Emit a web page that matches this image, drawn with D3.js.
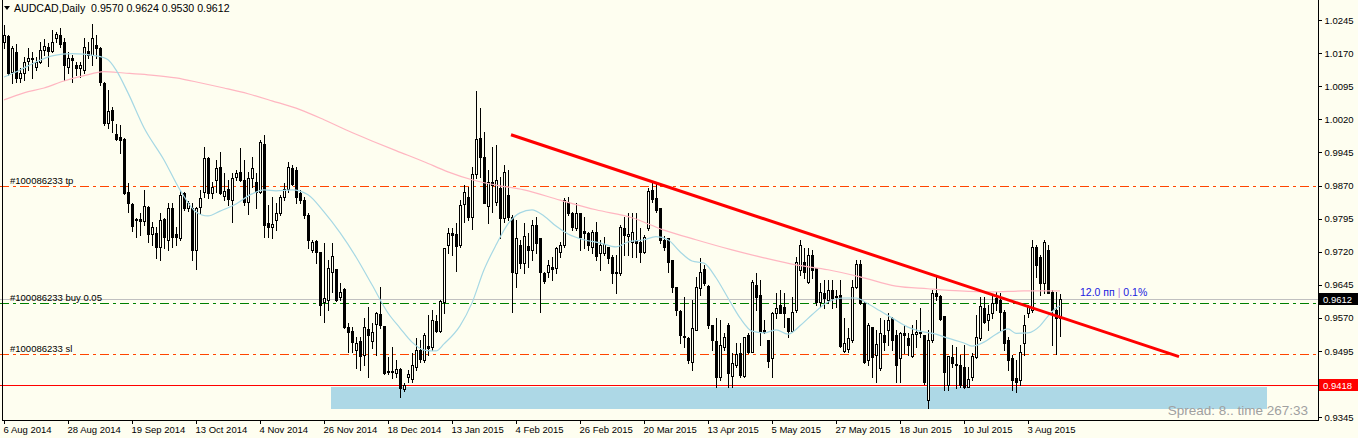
<!DOCTYPE html>
<html>
<head>
<meta charset="utf-8">
<script src="https://cdn.jsdelivr.net/npm/d3@7"></script>
<style>
  body { margin: 0; background: #fefef0; }
  svg { display: block; font-family: "Liberation Sans", Arial, sans-serif; }
</style>
</head>
<body>
<div id="chart"></div>
<script>
// AUDCAD daily, one entry per trading day starting 6 Aug 2014
const opens = [
  1.0196,1.0209,1.0128,1.0173,1.0114,1.0125,1.0153,1.0159,1.0139,1.0150,
  1.0178,1.0184,1.0175,1.0205,1.0212,1.0196,1.0139,1.0159,1.0144,1.0137,
  1.0132,1.0175,1.0166,1.0189,1.0182,1.0103,1.0012,1.0042,0.9987,0.9980,
  0.9976,0.9856,0.9828,0.9794,0.9794,0.9790,0.9822,0.9760,0.9763,0.9731,
  0.9794,0.9747,0.9819,0.9760,0.9751,0.9853,0.9819,0.9819,0.9724,0.9822,
  0.9856,0.9933,0.9853,0.9883,0.9912,0.9847,0.9862,0.9837,0.9890,0.9901,
  0.9883,0.9833,0.9887,0.9878,0.9856,0.9965,0.9785,0.9776,0.9792,0.9808,
  0.9844,0.9862,0.9910,0.9905,0.9853,0.9837,0.9803,0.9724,0.9744,0.9720,
  0.9606,0.9611,0.9674,0.9681,0.9617,0.9636,0.9549,0.9540,0.9497,0.9518,
  0.9486,0.9545,0.9518,0.9556,0.9579,0.9552,0.9450,0.9450,0.9445,0.9454,
  0.9409,0.9436,0.9431,0.9459,0.9497,0.9475,0.9506,0.9504,0.9563,0.9540,
  0.9606,0.9735,0.9763,0.9760,0.9735,0.9828,0.9844,0.9799,0.9896,0.9978,
  0.9935,0.9824,0.9878,0.9833,0.9865,0.9797,0.9849,0.9799,0.9672,0.9735,
  0.9694,0.9733,0.9724,0.9781,0.9751,0.9672,0.9674,0.9685,0.9683,0.9720,
  0.9735,0.9833,0.9808,0.9774,0.9808,0.9767,0.9763,0.9731,0.9765,0.9717,
  0.9717,0.9731,0.9708,0.9672,0.9672,0.9774,0.9756,0.9742,0.9747,0.9742,
  0.9720,0.9774,0.9860,0.9842,0.9819,0.9747,0.9751,0.9701,0.9640,0.9586,
  0.9529,0.9524,0.9470,0.9543,0.9638,0.9681,0.9642,0.9554,0.9518,0.9436,
  0.9504,0.9554,0.9438,0.9463,0.9490,0.9438,0.9531,0.9493,0.9645,0.9622,
  0.9543,0.9520,0.9479,0.9581,0.9599,0.9595,0.9570,0.9540,0.9588,0.9679,
  0.9697,0.9651,0.9713,0.9683,0.9606,0.9627,0.9611,0.9633,0.9620,0.9622,
  0.9495,0.9499,0.9520,0.9640,0.9692,0.9604,0.9475,0.9549,0.9486,0.9456,
  0.9531,0.9543,0.9570,0.9531,0.9479,0.9536,0.9524,0.9484,0.9533,0.9538,
  0.9531,0.9384,0.9520,0.9627,0.9620,0.9574,0.9418,0.9481,0.9466,0.9463,
  0.9459,0.9413,0.9436,0.9481,0.9524,0.9592,0.9565,0.9581,0.9615,0.9611,
  0.9583,0.9520,0.9479,0.9434,0.9429,0.9513,0.9581,0.9588,0.9731,0.9708,
  0.9649,0.9724,0.9629,0.9588,0.9570
];
const highs = [
  1.0234,1.0212,1.0187,1.0191,1.0137,1.0162,1.0182,1.0173,1.0162,1.0196,
  1.0203,1.0193,1.0223,1.0218,1.0227,1.0205,1.0173,1.0166,1.0150,1.0150,
  1.0205,1.0196,1.0237,1.0212,1.0184,1.0105,1.0087,1.0048,1.0010,1.0007,
  0.9978,0.9876,0.9831,0.9797,0.9808,0.9860,0.9824,0.9788,0.9776,0.9808,
  0.9797,0.9831,0.9831,0.9776,0.9860,0.9856,0.9835,0.9831,0.9822,0.9860,
  0.9958,0.9935,0.9878,0.9928,0.9946,0.9899,0.9883,0.9899,0.9905,0.9955,
  0.9928,0.9901,0.9935,0.9899,0.9973,0.9985,0.9826,0.9844,0.9831,0.9849,
  0.9876,0.9924,0.9917,0.9912,0.9860,0.9844,0.9808,0.9747,0.9747,0.9720,
  0.9740,0.9701,0.9740,0.9681,0.9649,0.9638,0.9558,0.9549,0.9527,0.9527,
  0.9570,0.9595,0.9558,0.9583,0.9640,0.9552,0.9481,0.9504,0.9475,0.9456,
  0.9422,0.9452,0.9490,0.9524,0.9520,0.9536,0.9577,0.9588,0.9577,0.9611,
  0.9729,0.9774,0.9774,0.9785,0.9837,0.9871,0.9867,0.9912,1.0085,1.0046,
  0.9992,0.9905,0.9958,0.9962,0.9890,0.9917,0.9905,0.9803,0.9792,0.9747,
  0.9785,0.9763,0.9792,0.9799,0.9751,0.9674,0.9701,0.9708,0.9731,0.9742,
  0.9842,0.9844,0.9810,0.9831,0.9808,0.9799,0.9765,0.9769,0.9788,0.9747,
  0.9754,0.9731,0.9713,0.9713,0.9781,0.9799,0.9808,0.9808,0.9808,0.9774,
  0.9758,0.9865,0.9876,0.9874,0.9819,0.9756,0.9751,0.9701,0.9640,0.9588,
  0.9617,0.9527,0.9611,0.9663,0.9706,0.9690,0.9645,0.9554,0.9570,0.9565,
  0.9536,0.9558,0.9490,0.9513,0.9513,0.9527,0.9536,0.9656,0.9672,0.9656,
  0.9565,0.9520,0.9583,0.9627,0.9633,0.9627,0.9570,0.9617,0.9708,0.9747,
  0.9729,0.9729,0.9724,0.9683,0.9649,0.9656,0.9656,0.9656,0.9633,0.9656,
  0.9570,0.9547,0.9656,0.9701,0.9701,0.9606,0.9558,0.9549,0.9543,0.9570,
  0.9565,0.9581,0.9572,0.9543,0.9538,0.9554,0.9536,0.9554,0.9565,0.9592,
  0.9531,0.9543,0.9633,0.9663,0.9622,0.9574,0.9484,0.9509,0.9504,0.9486,
  0.9509,0.9459,0.9490,0.9577,0.9617,0.9617,0.9599,0.9622,0.9629,0.9627,
  0.9588,0.9527,0.9486,0.9475,0.9509,0.9577,0.9599,0.9747,0.9735,0.9713,
  0.9747,0.9735,0.9633,0.9629,0.9624
];
const lows = [
  1.0182,1.0121,1.0103,1.0105,1.0105,1.0110,1.0132,1.0114,1.0132,1.0148,
  1.0166,1.0141,1.0173,1.0196,1.0184,1.0110,1.0125,1.0105,1.0121,1.0116,
  1.0125,1.0159,1.0144,1.0159,1.0098,1.0008,1.0001,0.9992,0.9973,0.9944,
  0.9851,0.9810,0.9767,0.9753,0.9758,0.9781,0.9742,0.9735,0.9706,0.9701,
  0.9728,0.9724,0.9731,0.9735,0.9747,0.9815,0.9812,0.9701,0.9681,0.9808,
  0.9844,0.9842,0.9842,0.9856,0.9851,0.9837,0.9826,0.9788,0.9883,0.9881,
  0.9826,0.9806,0.9867,0.9819,0.9853,0.9753,0.9753,0.9751,0.9769,0.9803,
  0.9837,0.9856,0.9871,0.9831,0.9831,0.9797,0.9728,0.9720,0.9695,0.9577,
  0.9561,0.9588,0.9629,0.9608,0.9611,0.9547,0.9493,0.9493,0.9456,0.9452,
  0.9463,0.9436,0.9502,0.9486,0.9547,0.9443,0.9443,0.9434,0.9436,0.9391,
  0.9404,0.9425,0.9425,0.9452,0.9470,0.9470,0.9486,0.9497,0.9538,0.9538,
  0.9581,0.9717,0.9713,0.9676,0.9731,0.9788,0.9792,0.9772,0.9887,0.9890,
  0.9831,0.9785,0.9810,0.9826,0.9751,0.9788,0.9792,0.9583,0.9640,0.9683,
  0.9672,0.9685,0.9701,0.9717,0.9583,0.9649,0.9663,0.9656,0.9672,0.9708,
  0.9731,0.9803,0.9769,0.9769,0.9724,0.9728,0.9724,0.9717,0.9701,0.9679,
  0.9713,0.9694,0.9649,0.9627,0.9667,0.9713,0.9713,0.9708,0.9708,0.9697,
  0.9717,0.9769,0.9833,0.9810,0.9740,0.9724,0.9674,0.9629,0.9577,0.9513,
  0.9504,0.9468,0.9452,0.9543,0.9622,0.9645,0.9547,0.9497,0.9413,0.9429,
  0.9497,0.9413,0.9413,0.9459,0.9436,0.9436,0.9490,0.9493,0.9588,0.9509,
  0.9536,0.9459,0.9436,0.9570,0.9581,0.9549,0.9527,0.9538,0.9583,0.9667,
  0.9660,0.9649,0.9660,0.9599,0.9595,0.9592,0.9604,0.9592,0.9595,0.9504,
  0.9493,0.9493,0.9515,0.9638,0.9602,0.9468,0.9463,0.9436,0.9425,0.9452,
  0.9497,0.9509,0.9497,0.9425,0.9425,0.9490,0.9486,0.9481,0.9504,0.9527,
  0.9420,0.9366,0.9515,0.9611,0.9565,0.9406,0.9406,0.9459,0.9411,0.9413,
  0.9411,0.9413,0.9429,0.9479,0.9520,0.9558,0.9543,0.9570,0.9588,0.9543,
  0.9497,0.9452,0.9406,0.9402,0.9418,0.9486,0.9572,0.9583,0.9663,0.9622,
  0.9627,0.9627,0.9509,0.9488,0.9530
];
const closes = [
  1.0212,1.0125,1.0182,1.0114,1.0125,1.0150,1.0159,1.0157,1.0150,1.0178,
  1.0187,1.0175,1.0196,1.0214,1.0191,1.0144,1.0159,1.0155,1.0137,1.0144,
  1.0184,1.0166,1.0205,1.0182,1.0105,1.0012,1.0039,1.0019,0.9976,0.9973,
  0.9853,0.9831,0.9778,0.9792,0.9790,0.9824,0.9760,0.9776,0.9731,0.9792,
  0.9753,0.9819,0.9753,0.9753,0.9849,0.9819,0.9831,0.9724,0.9819,0.9842,
  0.9933,0.9853,0.9867,0.9910,0.9853,0.9858,0.9840,0.9887,0.9899,0.9883,
  0.9833,0.9887,0.9910,0.9856,0.9969,0.9781,0.9776,0.9783,0.9808,0.9844,
  0.9862,0.9912,0.9874,0.9844,0.9837,0.9803,0.9747,0.9742,0.9720,0.9599,
  0.9615,0.9683,0.9710,0.9611,0.9629,0.9549,0.9538,0.9515,0.9513,0.9484,
  0.9549,0.9531,0.9538,0.9581,0.9554,0.9445,0.9447,0.9447,0.9454,0.9411,
  0.9418,0.9443,0.9463,0.9497,0.9477,0.9531,0.9502,0.9565,0.9540,0.9608,
  0.9729,0.9763,0.9758,0.9733,0.9826,0.9856,0.9799,0.9896,0.9976,0.9935,
  0.9831,0.9878,0.9871,0.9883,0.9797,0.9901,0.9799,0.9674,0.9751,0.9694,
  0.9756,0.9724,0.9781,0.9740,0.9674,0.9654,0.9690,0.9681,0.9729,0.9735,
  0.9837,0.9808,0.9776,0.9808,0.9753,0.9763,0.9735,0.9765,0.9710,0.9735,
  0.9738,0.9706,0.9672,0.9674,0.9776,0.9758,0.9760,0.9765,0.9740,0.9720,
  0.9754,0.9858,0.9840,0.9815,0.9747,0.9731,0.9697,0.9640,0.9588,0.9531,
  0.9527,0.9475,0.9547,0.9640,0.9674,0.9649,0.9554,0.9520,0.9436,0.9509,
  0.9527,0.9445,0.9468,0.9488,0.9441,0.9527,0.9493,0.9651,0.9617,0.9538,
  0.9538,0.9472,0.9581,0.9592,0.9581,0.9581,0.9540,0.9583,0.9697,0.9735,
  0.9674,0.9713,0.9679,0.9606,0.9629,0.9615,0.9633,0.9615,0.9617,0.9506,
  0.9513,0.9524,0.9640,0.9692,0.9604,0.9470,0.9554,0.9481,0.9511,0.9536,
  0.9515,0.9565,0.9520,0.9463,0.9536,0.9531,0.9509,0.9533,0.9538,0.9536,
  0.9425,0.9520,0.9627,0.9620,0.9568,0.9447,0.9484,0.9468,0.9463,0.9418,
  0.9413,0.9431,0.9484,0.9527,0.9597,0.9561,0.9579,0.9604,0.9604,0.9583,
  0.9513,0.9475,0.9429,0.9425,0.9493,0.9554,0.9595,0.9731,0.9690,0.9649,
  0.9742,0.9627,0.9588,0.9570,0.9612
];

// moving averages: [bar index, price]
const maFast = [
  [0,1.0116],[4,1.0132],[8,1.0150],[12,1.0164],[17,1.0169],[23,1.0164],[26,1.0155],
  [28,1.0132],[31,1.0080],[35,1.0001],[40,0.9928],[44,0.9860],[48,0.9810],[51,0.9801],
  [54,0.9812],[58,0.9828],[62,0.9851],[65,0.9860],[68,0.9858],[72,0.9860],[76,0.9849],
  [80,0.9810],[84,0.9763],[88,0.9708],[92,0.9645],[96,0.9581],[99,0.9547],[102,0.9515],
  [105,0.9497],[108,0.9495],[110,0.9511],[114,0.9552],[117,0.9604],[120,0.9679],
  [123,0.9735],[126,0.9783],[129,0.9808],[132,0.9815],[135,0.9801],[138,0.9778],
  [141,0.9760],[145,0.9747],[149,0.9740],[153,0.9731],[156,0.9742],[160,0.9747],
  [163,0.9754],[166,0.9747],[169,0.9720],[172,0.9699],[175,0.9694],[178,0.9661],
  [181,0.9615],[184,0.9570],[187,0.9540],[190,0.9536],[193,0.9543],[196,0.9533],
  [199,0.9552],[202,0.9577],[206,0.9606],[210,0.9615],[213,0.9615],[216,0.9602],
  [219,0.9586],[222,0.9570],[226,0.9549],[229,0.9540],[233,0.9533],[236,0.9524],
  [240,0.9513],[242,0.9506],[245,0.9515],[248,0.9533],[251,0.9545],[253,0.9535],
  [256,0.9536],[259,0.9552],[261,0.9574],[263,0.9592],[264,0.9597]
];
const maSlow = [
  [0,1.0064],[5,1.0080],[10,1.0091],[15,1.0107],[20,1.0119],[25,1.0128],[30,1.0125],
  [36,1.0121],[43,1.0114],[49,1.0103],[55,1.0091],[61,1.0078],[67,1.0062],[74,1.0042],
  [80,1.0019],[86,0.9994],[92,0.9971],[98,0.9949],[105,0.9924],[111,0.9901],[117,0.9883],
  [123,0.9871],[130,0.9860],[139,0.9837],[148,0.9815],[157,0.9797],[165,0.9769],
  [173,0.9747],[182,0.9724],[190,0.9706],[198,0.9690],[206,0.9679],[214,0.9663],
  [223,0.9642],[231,0.9636],[239,0.9631],[247,0.9629],[255,0.9631],[264,0.9631]
];

const dateLabels = ["6 Aug 2014", "28 Aug 2014", "19 Sep 2014", "13 Oct 2014", "4 Nov 2014",
  "26 Nov 2014", "18 Dec 2014", "13 Jan 2015", "4 Feb 2015", "26 Feb 2015", "20 Mar 2015",
  "13 Apr 2015", "5 May 2015", "27 May 2015", "18 Jun 2015", "10 Jul 2015", "3 Aug 2015"];
const dateBars = [0, 16, 32, 48, 64, 80, 96, 112, 128, 144, 160, 176, 192, 208, 224, 240, 256];
const priceTicks = [0.9345, 0.9495, 0.9570, 0.9645, 0.9720, 0.9795, 0.9870, 0.9945,
  1.0020, 1.0095, 1.0170, 1.0245];

// order levels
const levelNames = ["#100086233 tp", "#100086233 buy 0.05", "#100086233 sl"];
const levelPrices = [0.9870, 0.9604, 0.9489];
const bidPrice = 0.9612;
const alertPrice = 0.9418;
// trend line and support zone: [bar index, price]
const trendLine = [[126.75, 0.9985], [293.75, 0.9482]];
const supportZone = [[81.75, 0.9414], [315.75, 0.9363]];
const header = "AUDCAD,Daily  0.9570 0.9624 0.9530 0.9612";

class CandleChart {
    constructor(parentContainer) {
        this.parentContainer = parentContainer;
        this.initVis();
    }

    initVis() {
        let vis = this;

        vis.width = 1358;
        vis.height = 438;
        vis.plotW = 1318;
        vis.plotH = 420;
        vis.bg = "#fefef0";

        vis.svg = d3.select("#" + vis.parentContainer).append("svg")
            .attr("width", vis.width)
            .attr("height", vis.height)
            .style("background", vis.bg);

        vis.x = d3.scaleLinear().domain([-1, 328.5]).range([0, vis.plotW]);
        vis.y = d3.scaleLinear().domain([0.93385, 1.02905]).range([vis.plotH, 0]);

        vis.candles = opens.map((o, i) => ({ i: i, o: o, h: highs[i], l: lows[i], c: closes[i] }));

        vis.plot = vis.svg.append("g").attr("shape-rendering", "crispEdges");

        vis.drawObjects();
        vis.drawCandles();
        vis.drawAverages();
        vis.drawTrend();
        vis.drawAxes();
        vis.drawTexts();
    }

    px(v) {
        return Math.round(v);
    }

    drawObjects() {
        let vis = this;

        // support zone rectangle
        vis.plot.append("rect")
            .attr("x", vis.px(vis.x(supportZone[0][0])))
            .attr("y", vis.px(vis.y(supportZone[0][1])))
            .attr("width", vis.px(vis.x(supportZone[1][0])) - vis.px(vis.x(supportZone[0][0])))
            .attr("height", vis.px(vis.y(supportZone[1][1])) - vis.px(vis.y(supportZone[0][1])))
            .attr("fill", "#add8e6");

        // alert line
        vis.plot.append("line")
            .attr("x1", 0).attr("x2", vis.plotW)
            .attr("y1", vis.px(vis.y(alertPrice)) + 0.5)
            .attr("y2", vis.px(vis.y(alertPrice)) + 0.5)
            .attr("stroke", "#ff0000");

        // bid line
        vis.plot.append("line")
            .attr("x1", 0).attr("x2", vis.plotW)
            .attr("y1", vis.px(vis.y(bidPrice)) + 0.5)
            .attr("y2", vis.px(vis.y(bidPrice)) + 0.5)
            .attr("stroke", "#c0c0c0");

        let levelColors = ["#ff4500", "#008000", "#ff4500"];
        levelPrices.forEach((p, k) => {
            let yy = vis.px(vis.y(p)) + 0.5;
            vis.plot.append("line")
                .attr("x1", 0).attr("x2", vis.plotW)
                .attr("y1", yy).attr("y2", yy)
                .attr("stroke", levelColors[k])
                .attr("stroke-width", 1.5)
                .attr("stroke-dasharray", "9,4,3,4");
        });
    }

    drawCandles() {
        let vis = this;

        let g = vis.plot.append("g");

        g.selectAll(".wick")
            .data(vis.candles)
            .enter().append("rect")
            .attr("class", "wick")
            .attr("x", d => vis.px(vis.x(d.i)))
            .attr("y", d => vis.px(vis.y(d.h)))
            .attr("width", 1)
            .attr("height", d => vis.px(vis.y(d.l)) - vis.px(vis.y(d.h)) + 1)
            .attr("fill", "#000");

        g.selectAll(".body")
            .data(vis.candles)
            .enter().append("rect")
            .attr("class", "body")
            .attr("x", d => vis.px(vis.x(d.i)) - 0.5)
            .attr("y", d => vis.px(vis.y(Math.max(d.o, d.c))) + 0.5)
            .attr("width", 2)
            .attr("height", d => Math.max(0, vis.px(vis.y(Math.min(d.o, d.c))) - vis.px(vis.y(Math.max(d.o, d.c)))))
            .attr("fill", d => d.c >= d.o ? vis.bg : "#000")
            .attr("stroke", "#000")
            .attr("stroke-width", 1);
    }

    drawAverages() {
        let vis = this;

        let line = d3.line()
            .x(d => vis.x(d[0]))
            .y(d => vis.y(d[1]))
            .curve(d3.curveMonotoneX);

        vis.svg.append("path")
            .attr("d", line(maSlow))
            .attr("fill", "none")
            .attr("stroke", "#ffb6c1")
            .attr("stroke-width", 1.2);

        vis.svg.append("path")
            .attr("d", line(maFast))
            .attr("fill", "none")
            .attr("stroke", "#a6d8e4")
            .attr("stroke-width", 1.2);
    }

    drawTrend() {
        let vis = this;

        vis.svg.append("line")
            .attr("x1", vis.x(trendLine[0][0]))
            .attr("y1", vis.y(trendLine[0][1]))
            .attr("x2", vis.x(trendLine[1][0]))
            .attr("y2", vis.y(trendLine[1][1]))
            .attr("stroke", "#ff0000")
            .attr("stroke-width", 3);
    }

    drawAxes() {
        let vis = this;

        let frame = vis.svg.append("g").attr("shape-rendering", "crispEdges");
        frame.append("line").attr("x1", 2.5).attr("x2", 2.5).attr("y1", 0).attr("y2", vis.plotH)
            .attr("stroke", "#000");
        frame.append("line").attr("x1", vis.plotW + 0.5).attr("x2", vis.plotW + 0.5)
            .attr("y1", 0).attr("y2", vis.plotH).attr("stroke", "#000");
        frame.append("line").attr("x1", 2).attr("x2", vis.plotW + 1)
            .attr("y1", vis.plotH + 0.5).attr("y2", vis.plotH + 0.5).attr("stroke", "#000");

        // price axis
        let yAxis = d3.axisRight(vis.y)
            .tickValues(priceTicks)
            .tickFormat(d3.format(".4f"))
            .tickSize(3)
            .tickPadding(3);

        let ya = vis.svg.append("g")
            .attr("transform", `translate(${vis.plotW + 0.5},0)`)
            .call(yAxis);
        ya.select(".domain").remove();
        ya.selectAll("line").attr("stroke", "#000").attr("shape-rendering", "crispEdges");
        ya.selectAll("text")
            .attr("fill", "#000")
            .style("font-size", "9.5px")
            .style("font-family", "'Liberation Sans', Arial, sans-serif");

        // time axis
        let ticks = vis.svg.append("g");
        dateBars.forEach((b, k) => {
            let xx = vis.px(vis.x(b)) + 0.5;
            ticks.append("line")
                .attr("x1", xx).attr("x2", xx)
                .attr("y1", vis.plotH).attr("y2", vis.plotH + 4)
                .attr("stroke", "#000")
                .attr("shape-rendering", "crispEdges");
            ticks.append("text")
                .attr("x", xx - 1)
                .attr("y", vis.plotH + 13)
                .attr("fill", "#000")
                .style("font-size", "9.5px")
                .text(dateLabels[k]);
        });

        // price tags
        let tags = [[bidPrice, "#000"], [alertPrice, "#ff0000"]];
        tags.forEach(t => {
            let yy = vis.px(vis.y(t[0]));
            vis.svg.append("rect")
                .attr("x", vis.plotW + 1).attr("y", yy - 6)
                .attr("width", 39).attr("height", 12)
                .attr("fill", t[1]);
            vis.svg.append("text")
                .attr("x", vis.plotW + 5).attr("y", yy + 3.5)
                .attr("fill", "#fff")
                .style("font-size", "9.5px")
                .text(t[0].toFixed(4));
        });
    }

    drawTexts() {
        let vis = this;

        // header
        vis.svg.append("path")
            .attr("d", "M4,6 L10,6 L7,10 Z")
            .attr("fill", "#000");
        vis.svg.append("text")
            .attr("x", 14).attr("y", 12)
            .style("font-size", "10.6px")
            .attr("fill", "#000")
            .attr("xml:space", "preserve")
            .style("white-space", "pre")
            .text(header);

        levelNames.forEach((n, k) => {
            vis.svg.append("text")
                .attr("x", 10)
                .attr("y", vis.px(vis.y(levelPrices[k])) - 2)
                .style("font-size", "9.5px")
                .attr("fill", "#000")
                .text(n);
        });

        let info = vis.svg.append("text")
            .attr("x", vis.x(269))
            .attr("y", vis.y(bidPrice) - 3)
            .style("font-size", "10.5px")
            .attr("fill", "#2020e0");
        info.append("tspan").text("12.0 пп ");
        info.append("tspan").attr("fill", "#b080e0").text("|");
        info.append("tspan").text(" 0.1%");

        vis.svg.append("text")
            .attr("x", vis.plotW - 10)
            .attr("y", vis.plotH - 5)
            .attr("text-anchor", "end")
            .style("font-size", "13.5px")
            .attr("fill", "#a0a0a0")
            .text("Spread: 8.. time 267:33");
    }
}

new CandleChart("chart");
</script>
</body>
</html>
